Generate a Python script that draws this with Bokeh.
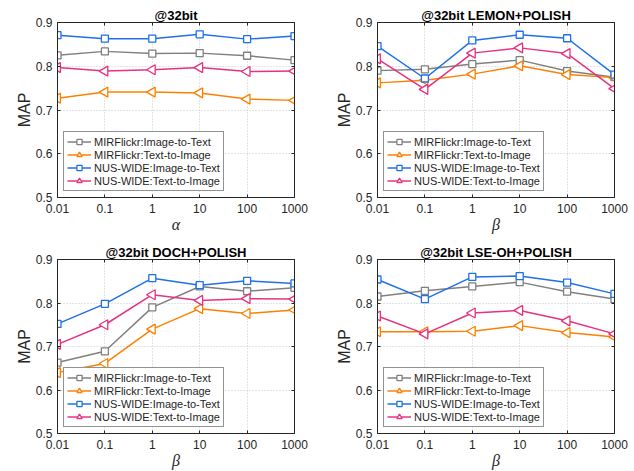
import math
from bokeh.plotting import figure
from bokeh.layouts import gridplot
from bokeh.models import (FixedTicker, CustomJSTickFormatter, Legend, LegendItem,
                          ColumnDataSource, Range1d, LogAxis, LinearAxis)
from bokeh.embed import file_html
from bokeh.resources import INLINE

params = [0.01, 0.1, 1, 10, 100, 1000]
param_labels = ["0.01", "0.1", "1", "10", "100", "1000"]
y_ticks = [0.5, 0.6, 0.7, 0.8, 0.9]
series_names = ["MIRFlickr:Image-to-Text", "MIRFlickr:Text-to-Image",
                "NUS-WIDE:Image-to-Text", "NUS-WIDE:Text-to-Image"]

titles = ["@32bit", "@32bit LEMON+POLISH", "@32bit DOCH+POLISH", "@32bit LSE-OH+POLISH"]
xlabels = ["\u03b1", "\u03b2", "\u03b2", "\u03b2"]

# panel 1: @32bit (alpha)
p1_mir_i2t = [0.825, 0.834, 0.829, 0.830, 0.824, 0.814]
p1_mir_t2i = [0.727, 0.741, 0.741, 0.739, 0.725, 0.722]
p1_nus_i2t = [0.871, 0.863, 0.863, 0.873, 0.862, 0.869]
p1_nus_t2i = [0.797, 0.789, 0.792, 0.797, 0.788, 0.789]
# panel 2: LEMON+POLISH
p2_mir_i2t = [0.790, 0.793, 0.805, 0.814, 0.789, 0.775]
p2_mir_t2i = [0.762, 0.768, 0.782, 0.801, 0.781, 0.774]
p2_nus_i2t = [0.846, 0.772, 0.859, 0.872, 0.864, 0.781]
p2_nus_t2i = [0.817, 0.747, 0.830, 0.842, 0.829, 0.749]
# panel 3: DOCH+POLISH
p3_mir_i2t = [0.663, 0.689, 0.790, 0.838, 0.827, 0.835]
p3_mir_t2i = [0.640, 0.661, 0.740, 0.787, 0.776, 0.784]
p3_nus_i2t = [0.752, 0.798, 0.857, 0.841, 0.851, 0.845]
p3_nus_t2i = [0.705, 0.750, 0.819, 0.806, 0.810, 0.809]
# panel 4: LSE-OH+POLISH
p4_mir_i2t = [0.815, 0.828, 0.838, 0.848, 0.826, 0.809]
p4_mir_t2i = [0.734, 0.734, 0.735, 0.748, 0.732, 0.722]
p4_nus_i2t = [0.854, 0.809, 0.860, 0.862, 0.847, 0.821]
p4_nus_t2i = [0.770, 0.729, 0.777, 0.783, 0.759, 0.729]

panels = [
    [p1_mir_i2t, p1_mir_t2i, p1_nus_i2t, p1_nus_t2i],
    [p2_mir_i2t, p2_mir_t2i, p2_nus_i2t, p2_nus_t2i],
    [p3_mir_i2t, p3_mir_t2i, p3_nus_i2t, p3_nus_t2i],
    [p4_mir_i2t, p4_mir_t2i, p4_nus_i2t, p4_nus_t2i],
]

colors = ["#808080", "#ff8000", "#2070e8", "#e6337f"]
markers = ["square", "triangle", "square", "triangle"]

FONT = "Liberation Sans"
TXT = "#262626"

# layout borders (left, right, top, bottom) per panel and figure sizes
borders = [(57, 19, 22, 38), (60, 17, 22, 38), (54, 23, 24, 37), (57, 20, 24, 37)]
sizes = [(317, 235), (317, 235), (317, 236), (317, 236)]
title_dx = [-5, -12, -11, -12]

blank = "return '';"

figs = []
for i in range(4):
    bl, br, bt, bb = borders[i]
    W, H = sizes[i]
    p = figure(width=W, height=H, x_axis_type="log", output_backend="svg",
               toolbar_location=None, x_range=Range1d(0.01, 1000), y_range=Range1d(0.5, 0.9),
               min_border_left=bl, min_border_right=br, min_border_top=bt, min_border_bottom=bb,
               title=titles[i])
    p.title.text_font = FONT
    p.title.text_font_size = "13px"
    p.title.text_font_style = "bold"
    p.title.text_color = "black"
    p.title.align = "center"
    p.title.standoff = 0
    p.title.offset = title_dx[i]
    p.background_fill_color = "white"
    p.border_fill_color = "white"
    p.outline_line_color = TXT
    p.outline_line_width = 1

    xa = p.below[0]
    ya = p.left[0]
    xa.ticker = FixedTicker(ticks=params)
    xa.formatter = CustomJSTickFormatter(
        args=dict(vals=params, labs=param_labels),
        code="for (let k = 0; k < vals.length; k++) { if (Math.abs(Math.log10(tick) - Math.log10(vals[k])) < 1e-6) return labs[k]; } return '';")
    ya.ticker = FixedTicker(ticks=y_ticks)
    for ax in (xa, ya):
        ax.minor_tick_line_color = None
        ax.major_tick_in = 3
        ax.major_tick_out = 0
        ax.axis_line_color = TXT
        ax.major_tick_line_color = TXT
        ax.major_label_text_font = FONT
        ax.major_label_text_font_size = "12px"
        ax.major_label_text_color = TXT
        ax.axis_label_text_color = TXT
    xa.major_label_standoff = 6
    ya.major_label_standoff = 5
    ya.axis_label = "MAP"
    ya.axis_label_text_font = FONT
    ya.axis_label_text_font_size = "16px"
    ya.axis_label_text_font_style = "normal"
    ya.axis_label_standoff = 0
    xa.axis_label = xlabels[i]
    xa.axis_label_text_font = "Liberation Serif"
    xa.axis_label_text_font_size = "16px"
    xa.axis_label_text_font_style = "italic"
    xa.axis_label_standoff = 0

    # box ticks on the top and right sides (no labels)
    top_ax = LogAxis(ticker=FixedTicker(ticks=params), formatter=CustomJSTickFormatter(code=blank),
                     major_label_standoff=0, major_tick_in=3, major_tick_out=0,
                     minor_tick_line_color=None, axis_line_color=TXT, major_tick_line_color=TXT)
    right_ax = LinearAxis(ticker=FixedTicker(ticks=y_ticks), formatter=CustomJSTickFormatter(code=blank),
                          major_label_standoff=0, major_tick_in=3, major_tick_out=0,
                          minor_tick_line_color=None, axis_line_color=TXT, major_tick_line_color=TXT)
    p.add_layout(top_ax, "above")
    p.add_layout(right_ax, "right")

    p.xgrid.grid_line_color = "#c8c8c8"
    p.ygrid.grid_line_color = "#c8c8c8"
    p.xgrid.grid_line_dash = "1 2"
    p.ygrid.grid_line_dash = "1 2"

    items = []
    for j in range(4):
        src = ColumnDataSource(dict(x=params, y=panels[i][j], ang=[math.pi / 2] * len(params)))
        ln = p.line("x", "y", source=src, line_color=colors[j], line_width=1.5)
        if markers[j] == "square":
            mk = p.scatter("x", "y", source=src, marker="square", size=7,
                           line_color=colors[j], fill_color="white", line_width=1.3)
        else:
            mk = p.scatter("x", "y", source=src, marker="triangle", size=10, angle="ang",
                           line_color=colors[j], fill_color="white", line_width=1.3)
        items.append(LegendItem(label=series_names[j], renderers=[ln, mk]))

    leg = Legend(items=items, location="bottom_left", margin=6, padding=3, spacing=0,
                 glyph_width=24, glyph_height=13, label_height=13, label_standoff=3,
                 label_text_font=FONT, label_text_font_size="11px", label_text_color=TXT,
                 border_line_color=TXT, border_line_width=1, background_fill_alpha=1.0)
    p.add_layout(leg, "center")
    figs.append(p)

grid = gridplot([[figs[0], figs[1]], [figs[2], figs[3]]], toolbar_location=None)
open("out.html", "w").write(file_html(grid, INLINE))
